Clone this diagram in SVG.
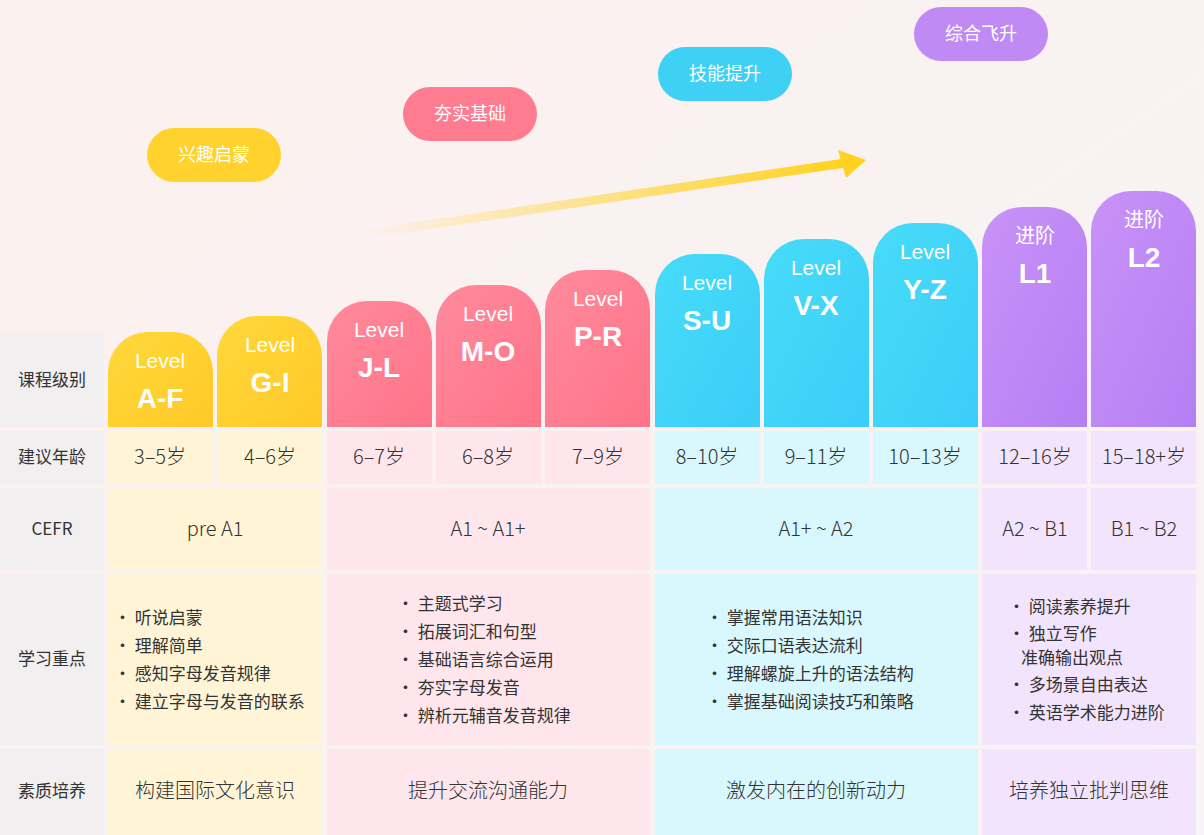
<svg xmlns="http://www.w3.org/2000/svg" width="1204" height="835" viewBox="0 0 1204 835">
<defs>
<linearGradient id="bg" x1="0" y1="0" x2="1" y2="1"><stop offset="0" stop-color="#fbf1ee"/><stop offset="1" stop-color="#f8f3f6"/></linearGradient>
<linearGradient id="arr" x1="0" y1="0" x2="1" y2="0"><stop offset="0" stop-color="#ffd21f" stop-opacity="0"/><stop offset="1" stop-color="#ffd21f"/></linearGradient>
<linearGradient id="gy" x1="0" y1="0" x2="1" y2="1"><stop offset="0" stop-color="#ffd83a"/><stop offset="1" stop-color="#ffc928"/></linearGradient>
<linearGradient id="gp" x1="0" y1="0" x2="1" y2="1"><stop offset="0" stop-color="#ff8a9c"/><stop offset="1" stop-color="#ff7388"/></linearGradient>
<linearGradient id="gc" x1="0" y1="0" x2="1" y2="1"><stop offset="0" stop-color="#46dcf8"/><stop offset="1" stop-color="#3ccdf8"/></linearGradient>
<linearGradient id="gv" x1="0" y1="0" x2="1" y2="1"><stop offset="0" stop-color="#c992f8"/><stop offset="1" stop-color="#b47ff3"/></linearGradient>
</defs>
<style>
text{font-family:"Noto Sans CJK SC","Noto Sans",sans-serif}
.lab{font-size:17px;fill:#333;text-anchor:middle}
.cell{font-size:20px;fill:#333;text-anchor:middle;font-weight:300}
.lv{font-size:21px;fill:#fff;text-anchor:middle;font-family:"Liberation Sans",sans-serif}
.code{font-size:28px;fill:#fff;text-anchor:middle;font-weight:bold;font-family:"Liberation Sans",sans-serif}
.bul{font-size:17px;fill:#333}
.bub{font-size:18px;fill:#fff;text-anchor:middle}
</style>
<rect width="1204" height="835" fill="url(#bg)"/>
<g id="labels">
<rect x="0" y="333" width="104" height="94" fill="#f1efef"/>
<rect x="0" y="431" width="104" height="53" fill="#f1efef"/>
<rect x="0" y="488" width="104" height="82" fill="#f1efef"/>
<rect x="0" y="574" width="104" height="171" fill="#f1efef"/>
<rect x="0" y="749" width="104" height="86" fill="#f1efef"/>
<text class="lab" x="52" y="386">课程级别</text>
<text class="lab" x="52" y="463">建议年龄</text>
<text class="lab" x="52" y="535">CEFR</text>
<text class="lab" x="52" y="665">学习重点</text>
<text class="lab" x="52" y="797">素质培养</text>
</g>
<g id="connectors">
<path d="M360 235 L845 163" stroke="url(#arr)" stroke-width="9" fill="none"/>
<polygon points="838,150 866,160 846,178" fill="#ffd21f"/>
</g>
<g id="bubbles">
<g id="b1"><rect x="147" y="128" width="134" height="54" rx="27" fill="#ffd22e"/><text class="bub" x="214" y="161">兴趣启蒙</text></g>
<g id="b2"><rect x="403" y="87" width="134" height="54" rx="27" fill="#ff7b8f"/><text class="bub" x="470" y="120">夯实基础</text></g>
<g id="b3"><rect x="658" y="47" width="134" height="54" rx="27" fill="#3fd0f5"/><text class="bub" x="725" y="80">技能提升</text></g>
<g id="b4"><rect x="914" y="7" width="134" height="54" rx="27" fill="#c08af5"/><text class="bub" x="981" y="40">综合飞升</text></g>
</g>
<g id="bars">
<g id="AF"><path d="M108 427 V372 a40 40 0 0 1 40 -40 H173 a40 40 0 0 1 40 40 V427 Z" fill="url(#gy)"/><text class="lv" x="160" y="368">Level</text><text class="code" x="160" y="408">A-F</text></g>
<g id="GI"><path d="M217 427 V356 a40 40 0 0 1 40 -40 H282 a40 40 0 0 1 40 40 V427 Z" fill="url(#gy)"/><text class="lv" x="270" y="352">Level</text><text class="code" x="270" y="392">G-I</text></g>
<g id="JL"><path d="M327 427 V341 a40 40 0 0 1 40 -40 H392 a40 40 0 0 1 40 40 V427 Z" fill="url(#gp)"/><text class="lv" x="379" y="337">Level</text><text class="code" x="379" y="377">J-L</text></g>
<g id="MO"><path d="M436 427 V325 a40 40 0 0 1 40 -40 H501 a40 40 0 0 1 40 40 V427 Z" fill="url(#gp)"/><text class="lv" x="488" y="321">Level</text><text class="code" x="488" y="361">M-O</text></g>
<g id="PR"><path d="M545 427 V310 a40 40 0 0 1 40 -40 H610 a40 40 0 0 1 40 40 V427 Z" fill="url(#gp)"/><text class="lv" x="598" y="306">Level</text><text class="code" x="598" y="346">P-R</text></g>
<g id="SU"><path d="M655 427 V294 a40 40 0 0 1 40 -40 H720 a40 40 0 0 1 40 40 V427 Z" fill="url(#gc)"/><text class="lv" x="707" y="290">Level</text><text class="code" x="707" y="330">S-U</text></g>
<g id="VX"><path d="M764 427 V279 a40 40 0 0 1 40 -40 H829 a40 40 0 0 1 40 40 V427 Z" fill="url(#gc)"/><text class="lv" x="816" y="275">Level</text><text class="code" x="816" y="315">V-X</text></g>
<g id="YZ"><path d="M873 427 V263 a40 40 0 0 1 40 -40 H938 a40 40 0 0 1 40 40 V427 Z" fill="url(#gc)"/><text class="lv" x="925" y="259">Level</text><text class="code" x="925" y="299">Y-Z</text></g>
<g id="L1"><path d="M982 427 V247 a40 40 0 0 1 40 -40 H1047 a40 40 0 0 1 40 40 V427 Z" fill="url(#gv)"/><text class="bub" x="1035" y="243" style="font-size:20px">进阶</text><text class="code" x="1035" y="283">L1</text></g>
<g id="L2"><path d="M1091 427 V231 a40 40 0 0 1 40 -40 H1156 a40 40 0 0 1 40 40 V427 Z" fill="url(#gv)"/><text class="bub" x="1144" y="227" style="font-size:20px">进阶</text><text class="code" x="1144" y="267">L2</text></g>
</g>
<g id="ages">
<rect x="108" y="431" width="105" height="53" fill="#fff5d6"/><rect x="217" y="431" width="105" height="53" fill="#fff5d6"/>
<rect x="327" y="431" width="105" height="53" fill="#ffe6ec"/><rect x="436" y="431" width="105" height="53" fill="#ffe6ec"/><rect x="545" y="431" width="105" height="53" fill="#ffe6ec"/>
<rect x="655" y="431" width="105" height="53" fill="#d9f8fd"/><rect x="764" y="431" width="105" height="53" fill="#d9f8fd"/><rect x="873" y="431" width="105" height="53" fill="#d9f8fd"/>
<rect x="982" y="431" width="105" height="53" fill="#f3e4fd"/><rect x="1091" y="431" width="105" height="53" fill="#f3e4fd"/>
<text class="cell" x="160" y="464">3–5岁</text><text class="cell" x="270" y="464">4–6岁</text><text class="cell" x="379" y="464">6–7岁</text><text class="cell" x="488" y="464">6–8岁</text><text class="cell" x="598" y="464">7–9岁</text><text class="cell" x="707" y="464">8–10岁</text><text class="cell" x="816" y="464">9–11岁</text><text class="cell" x="925" y="464">10–13岁</text><text class="cell" x="1035" y="464">12–16岁</text><text class="cell" x="1144" y="464">15–18+岁</text>
</g>
<g id="cefr">
<rect x="108" y="488" width="214" height="82" fill="#fff5d6"/><rect x="327" y="488" width="323" height="82" fill="#ffe6ec"/><rect x="655" y="488" width="323" height="82" fill="#d9f8fd"/><rect x="982" y="488" width="105" height="82" fill="#f3e4fd"/><rect x="1091" y="488" width="105" height="82" fill="#f3e4fd"/>
<text class="cell" x="215" y="536">pre A1</text><text class="cell" x="488" y="536">A1 ~ A1+</text><text class="cell" x="816" y="536">A1+ ~ A2</text><text class="cell" x="1035" y="536">A2 ~ B1</text><text class="cell" x="1144" y="536">B1 ~ B2</text>
</g>
<g id="focus">
<rect x="108" y="574" width="214" height="171" fill="#fff5d6"/><rect x="327" y="574" width="323" height="171" fill="#ffe6ec"/><rect x="655" y="574" width="323" height="171" fill="#d9f8fd"/><rect x="982" y="574" width="214" height="171" fill="#f3e4fd"/>
<text class="bul" x="114" y="624">• 听说启蒙</text><text class="bul" x="114" y="652">• 理解简单</text><text class="bul" x="114" y="680">• 感知字母发音规律</text><text class="bul" x="114" y="708">• 建立字母与发音的联系</text>
<text class="bul" x="397" y="610">• 主题式学习</text><text class="bul" x="397" y="638">• 拓展词汇和句型</text><text class="bul" x="397" y="666">• 基础语言综合运用</text><text class="bul" x="397" y="694">• 夯实字母发音</text><text class="bul" x="397" y="722">• 辨析元辅音发音规律</text>
<text class="bul" x="706" y="624">• 掌握常用语法知识</text><text class="bul" x="706" y="652">• 交际口语表达流利</text><text class="bul" x="706" y="680">• 理解螺旋上升的语法结构</text><text class="bul" x="706" y="708">• 掌握基础阅读技巧和策略</text>
<text class="bul" x="1008" y="613">• 阅读素养提升</text><text class="bul" x="1008" y="640">• 独立写作</text><text class="bul" x="1021" y="664">准确输出观点</text><text class="bul" x="1008" y="691">• 多场景自由表达</text><text class="bul" x="1008" y="719">• 英语学术能力进阶</text>
</g>
<g id="quality">
<rect x="108" y="749" width="214" height="86" fill="#fff5d6"/><rect x="327" y="749" width="323" height="86" fill="#ffe6ec"/><rect x="655" y="749" width="323" height="86" fill="#d9f8fd"/><rect x="982" y="749" width="214" height="86" fill="#f3e4fd"/>
<text class="cell" x="215" y="798">构建国际文化意识</text><text class="cell" x="488" y="798">提升交流沟通能力</text><text class="cell" x="816" y="798">激发内在的创新动力</text><text class="cell" x="1089" y="798">培养独立批判思维</text>
</g>
</svg>
